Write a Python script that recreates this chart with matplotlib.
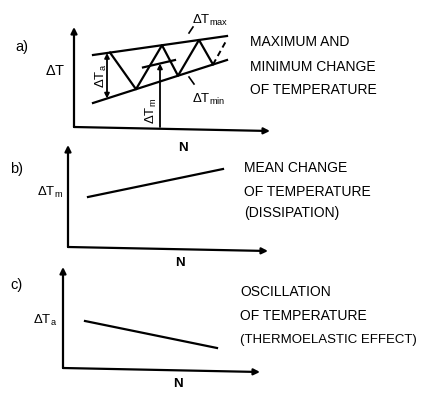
import numpy as np
import matplotlib.pyplot as plt

# schematic data (N in cycles, dT in arbitrary units)
N_band = [1.9, 15.3]
dT_max = [7.2, 9.1]
dT_min = [2.4, 6.7]
N_zig = [3.6, 6.2, 8.8, 10.4, 12.5, 13.9]
N_mean_seg = [6.9, 10.1]
N_amp = 3.3
N_mean_arrow = 8.6

N_b = [2.0, 15.5]
dT_mean = [5.0, 7.8]

N_c = [2.2, 15.4]
dT_osc = [4.7, 2.0]

W, H = 435, 400
plt.rcParams['font.family'] = ['Liberation Sans', 'DejaVu Sans']
plt.rcParams['mathtext.fontset'] = 'custom'
plt.rcParams['mathtext.rm'] = 'Liberation Sans'
plt.rcParams['mathtext.default'] = 'regular'
fig = plt.figure(figsize=(W / 100, H / 100), dpi=100)


def px(x, y):
    return x / W, 1 - y / H


def panel(x0, y0, xend, ytop):
    ax = fig.add_axes([x0 / W, 1 - y0 / H, (xend - x0) / W, (y0 - ytop) / H])
    ax.set_xlim(0, (xend - x0) / 10)
    ax.set_ylim(0, (y0 - ytop) / 10)
    ax.axis('off')
    xm, ym = ax.get_xlim()[1], ax.get_ylim()[1]
    kw = dict(arrowstyle='-|>', color='black', lw=1.6, mutation_scale=9,
              shrinkA=0, shrinkB=0)
    ax.annotate('', xy=(xm, -0.4), xytext=(0, 0), arrowprops=kw,
                annotation_clip=False)
    ax.annotate('', xy=(0, ym), xytext=(0, 0), arrowprops=kw,
                annotation_clip=False)
    return ax


def band(n, lo, hi):
    return np.interp(n, N_band, lo), np.interp(n, N_band, hi)


# a) max / min
ax = panel(74, 127, 270, 27)
ax.plot(N_band, dT_max, color='black', lw=1.6)
ax.plot(N_band, dT_min, color='black', lw=1.6)
zig_y = []
for i, n in enumerate(N_zig):
    lo, hi = band(n, dT_min, dT_max)
    zig_y.append(hi if i % 2 == 0 else lo)
ax.plot(N_zig, zig_y, color='black', lw=1.6)
# dashed continuation
n_end = N_band[1] - 0.1
ax.plot([N_zig[-1], n_end], [zig_y[-1], np.interp(n_end, N_band, dT_max) - 0.5],
        color='black', lw=1.4, ls=(0, (3, 2)))
dT_mean_a = [(a + b) / 2 for a, b in zip(dT_max, dT_min)]
seg_y = np.interp(N_mean_seg, N_band, dT_mean_a)
ax.plot(N_mean_seg, seg_y, color='black', lw=1.6)
ak = dict(arrowstyle='<|-|>', color='black', lw=1.3, mutation_scale=7,
          shrinkA=0, shrinkB=0)
lo, hi = band(N_amp, dT_min, dT_max)
ax.annotate('', xy=(N_amp, hi), xytext=(N_amp, lo), arrowprops=ak)
ym = np.interp(N_mean_arrow, N_band, dT_mean_a)
ax.annotate('', xy=(N_mean_arrow, ym), xytext=(N_mean_arrow, 0),
            arrowprops=dict(ak, arrowstyle='-|>'))
ax.text(N_amp - 0.6, (lo + hi) / 2, r'$\Delta T_a$', rotation=90,
        ha='center', va='center', fontsize=9.5)
ax.text(N_mean_arrow - 0.9, 1.6, r'$\Delta T_m$', rotation=90,
        ha='center', va='center', fontsize=9.5)
ax.plot([11.5, 11.9], [9.4, 10.0], color='black', lw=1.2, clip_on=False)
ax.plot([11.5, 12.0], [5.0, 4.3], color='black', lw=1.2, clip_on=False)
ax.text(11.8, 10.7, r'$\Delta T_{max}$', fontsize=9.5, va='center', clip_on=False)
ax.text(11.8, 2.8, r'$\Delta T_{min}$', fontsize=9.5, va='center', clip_on=False)

# b) mean
ax = panel(68, 247, 268, 145)
ax.plot(N_b, dT_mean, color='black', lw=1.6)

# c) oscillation
ax = panel(63, 368, 260, 267)
ax.plot(N_c, dT_osc, color='black', lw=1.6)

lab = dict(fontsize=10.5, va='center')
fig.text(*px(15, 47), 'a)', **lab)
fig.text(*px(45, 71), r'$\Delta T$', **lab)
fig.text(*px(183, 148), 'N', ha='center', fontweight='bold', **dict(lab, fontsize=9.5))
fig.text(*px(10, 169), 'b)', **lab)
fig.text(*px(37, 192), r'$\Delta T_m$', **dict(lab, fontsize=9.5))
fig.text(*px(180, 263), 'N', ha='center', fontweight='bold', **dict(lab, fontsize=9.5))
fig.text(*px(10, 285), 'c)', **lab)
fig.text(*px(33, 320), r'$\Delta T_a$', **dict(lab, fontsize=9.5))
fig.text(*px(178, 384), 'N', ha='center', fontweight='bold', **dict(lab, fontsize=9.5))

txt = dict(fontsize=10, va='center')
for y, s in zip([42, 67, 90], ['MAXIMUM AND', 'MINIMUM CHANGE', 'OF TEMPERATURE']):
    fig.text(*px(250, y), s, **txt)
for y, s in zip([168, 192, 213], ['MEAN CHANGE', 'OF TEMPERATURE', '(DISSIPATION)']):
    fig.text(*px(244, y), s, **txt)
for y, s in zip([292, 316], ['OSCILLATION', 'OF TEMPERATURE']):
    fig.text(*px(240, y), s, **txt)
fig.text(*px(240, 340), '(THERMOELASTIC EFFECT)', **dict(txt, fontsize=9.5))

fig.savefig('out.png', dpi=100)
